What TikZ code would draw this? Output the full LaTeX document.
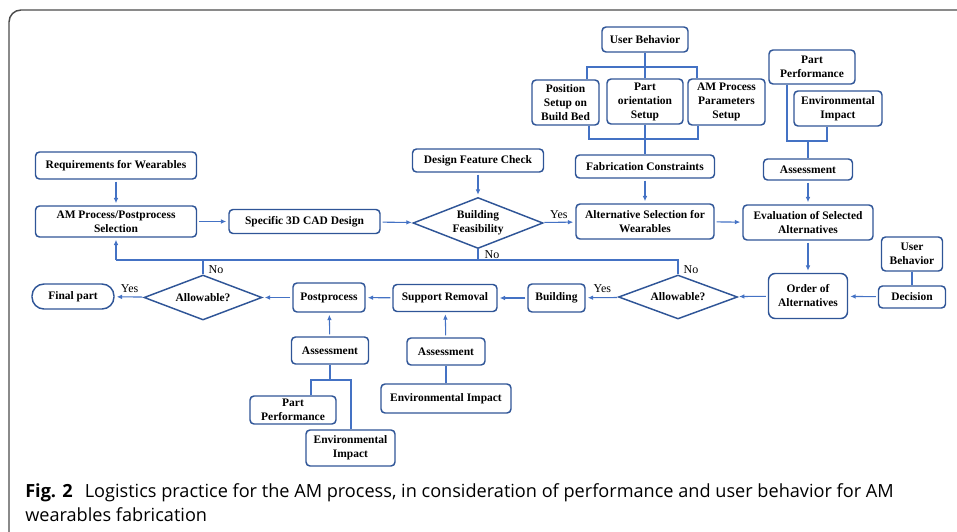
\documentclass[tikz,border=0pt]{standalone}
\usepackage{fontspec}
\setmainfont{Liberation Serif}
\newfontfamily\capfont{Open Sans}
\usetikzlibrary{arrows.meta,shapes.geometric}
\definecolor{boxblue}{RGB}{47,85,151}
\definecolor{lineblue}{RGB}{68,114,196}
\definecolor{framegray}{RGB}{75,75,75}
\tikzset{
  stepbox/.style={draw=boxblue, line width=1.1pt, rounded corners=3pt, align=center,
    inner sep=1pt, font=\fontsize{8.6}{10.5}\selectfont\bfseries},
  decide/.style={diamond, draw=boxblue, line width=1.1pt, aspect=2.5, inner sep=0pt,
    align=center, font=\fontsize{8.6}{10.5}\selectfont\bfseries},
  link/.style={draw=lineblue, line width=0.8pt},
  arr/.style={link, -{Latex[length=4pt,width=3.5pt]}, shorten >=1.5pt, shorten <=1.5pt},
  lbl/.style={font=\fontsize{9}{10}\selectfont, inner sep=1pt}
}
\begin{document}
\begin{tikzpicture}[x=0.75pt, y=-0.75pt]
    \useasboundingbox (0,0) rectangle (957,532);
    % frame
    \begin{scope}
        \clip (0,0) rectangle (957,532);
        \draw[framegray, line width=1.1pt, rounded corners=9pt] (9,10) rectangle (980,545);
    \end{scope}

    % left column
    \node[stepbox, minimum width=161*0.75pt, minimum height=27*0.75pt] (req) at (116,165.5) {Requirements for Wearables};
    \node[stepbox, minimum width=161*0.75pt, minimum height=31*0.75pt] (amsel) at (116,221.5) {AM Process/Postprocess\\Selection};
    \node[stepbox, minimum width=151*0.75pt, minimum height=24*0.75pt] (cad) at (304.5,221.5) {Specific 3D CAD Design};
    \node[decide, minimum width=130*0.75pt, minimum height=51*0.75pt] (feas) at (478,223) {Building\\Feasibility};
    \node[stepbox, minimum width=131*0.75pt, minimum height=23*0.75pt] (dfc) at (478,160.5) {Design Feature Check};

    % user behavior block
    \node[stepbox, minimum width=86*0.75pt, minimum height=25*0.75pt] (ub) at (645,39.5) {User Behavior};
    \node[stepbox, minimum width=67*0.75pt, minimum height=45*0.75pt] (pos) at (565.5,102.5) {Position\\Setup on\\Build Bed};
    \node[stepbox, minimum width=76*0.75pt, minimum height=45*0.75pt] (orient) at (645,101.5) {Part\\orientation\\Setup};
    \node[stepbox, minimum width=77*0.75pt, minimum height=46*0.75pt] (param) at (726.5,102) {AM Process\\Parameters\\Setup};
    \node[stepbox, minimum width=139*0.75pt, minimum height=23*0.75pt] (fab) at (645,166.5) {Fabrication Constraints};
    \node[stepbox, minimum width=138*0.75pt, minimum height=35*0.75pt] (altsel) at (645,221.5) {Alternative Selection for\\Wearables};

    % assessment block (top right)
    \node[stepbox, minimum width=86*0.75pt, minimum height=34*0.75pt] (perfA) at (812,67) {Part\\Performance};
    \node[stepbox, minimum width=88*0.75pt, minimum height=35*0.75pt] (envA) at (838,108.5) {Environmental\\Impact};
    \node[stepbox, minimum width=89*0.75pt, minimum height=21*0.75pt] (assA) at (808,169.5) {Assessment};
    \node[stepbox, minimum width=130*0.75pt, minimum height=35*0.75pt] (eval) at (808,222.5) {Evaluation of Selected\\Alternatives};

    % ordering
    \node[stepbox, minimum width=61*0.75pt, minimum height=34*0.75pt] (ubB) at (912,254) {User\\Behavior};
    \node[stepbox, minimum width=67*0.75pt, minimum height=22*0.75pt] (dec) at (912,297) {Decision};
    \node[stepbox, minimum width=79*0.75pt, minimum height=45*0.75pt, rounded corners=5pt] (order) at (808,296) {Order of\\Alternatives};
    \node[decide, minimum width=119*0.75pt, minimum height=44*0.75pt] (allowR) at (678,297) {Allowable?};

    % bottom row
    \node[stepbox, minimum width=57*0.75pt, minimum height=28*0.75pt] (build) at (556.5,298) {Building};
    \node[stepbox, minimum width=104*0.75pt, minimum height=27*0.75pt] (suprem) at (445,298) {Support Removal};
    \node[stepbox, minimum width=72*0.75pt, minimum height=29*0.75pt] (post) at (329,297.5) {Postprocess};
    \node[decide, minimum width=118*0.75pt, minimum height=45*0.75pt] (allowL) at (203,297.5) {Allowable?};
    \node[stepbox, minimum width=82*0.75pt, minimum height=25*0.75pt, rounded corners=9pt] (final) at (73,296.5) {Final part};

    % assessments below
    \node[stepbox, minimum width=77*0.75pt, minimum height=27*0.75pt] (assB) at (330,350.5) {Assessment};
    \node[stepbox, minimum width=86*0.75pt, minimum height=28*0.75pt] (perfB) at (293,410) {Part\\Performance};
    \node[stepbox, minimum width=89*0.75pt, minimum height=36*0.75pt] (envB) at (350.5,448) {Environmental\\Impact};
    \node[stepbox, minimum width=78*0.75pt, minimum height=27*0.75pt] (assC) at (446,351.5) {Assessment};
    \node[stepbox, minimum width=130*0.75pt, minimum height=29*0.75pt] (envC) at (446,398.5) {Environmental Impact};

    % bracket corners
    \coordinate (ubL) at (587,67);
    \coordinate (ubR) at (697,67);
    \coordinate (fcL) at (589,139);
    \coordinate (fcR) at (698,139);
    \coordinate (paL) at (787,141);
    \coordinate (paR) at (827,141);
    \coordinate (paM) at (808,141);
    \coordinate (pbL) at (311,380);
    \coordinate (pbR) at (351,380);
    \coordinate (pbM) at (330,380);
    \coordinate (loopL) at (116,260);
    \coordinate (loopR) at (678,260);

    % connectors
    \draw[arr] (req) -- (amsel);
    \draw[arr] (amsel) -- (cad);
    \draw[arr] (cad) -- (feas);
    \draw[arr] (dfc) -- (feas);
    \draw[arr] (feas) -- node[lbl, above, yshift=1pt] {Yes} (altsel);
    \draw[link] (ub) -- (orient);
    \draw[link] (ubL |- pos.north) -- (ubL) -- (ubR) -- (ubR |- param.north);
    \draw[link] (fcL |- pos.south) -- (fcL) -- (fcR) -- (fcR |- param.south);
    \draw[link] (orient) -- (fab);
    \draw[arr] (fab) -- (altsel);
    \draw[link] (paL |- perfA.south) -- (paL) -- (paR) -- (paR |- envA.south);
    \draw[link] (paM) -- (assA);
    \draw[arr] (assA) -- (eval);
    \draw[arr] (altsel) -- (eval);
    \draw[arr] (eval) -- (order);
    \draw[link] (ubB) -- (dec);
    \draw[arr] (dec) -- (order);
    \draw[arr] (order) -- (allowR);
    \draw[arr] (allowR) -- node[lbl, above, yshift=2pt] {Yes} (build);
    \draw[arr] (build) -- (suprem);
    \draw[arr] (suprem) -- (post);
    \draw[arr] (post) -- (allowL);
    \draw[arr] (allowL) -- node[lbl, above, yshift=2pt] {Yes} (final);
    \draw[arr] (assB) -- (post);
    \draw[link] (assB) -- (pbM);
    \draw[link] (pbL |- perfB.north) -- (pbL) -- (pbR) -- (pbR |- envB.north);
    \draw[arr] (assC) -- (suprem);
    \draw[link] (envC) -- (assC);

    % feedback loop
    \draw[link] (allowR.north) -- (loopR) -- (loopL);
    \draw[arr, shorten <=0pt] (loopL) -- (amsel);
    \draw[link] (feas.south) -- (feas.south |- loopL);
    \draw[link] (allowL.north) -- (allowL.north |- loopL);
    \node[lbl, anchor=south west] (noF) at (483,260) {No};
    \node[lbl, anchor=west] (noL) at (207,270) {No};
    \node[lbl, anchor=west] (noR) at (682,270) {No};

    % caption
    \node[anchor=base west, inner sep=0pt, font=\capfont\fontsize{13.6}{18}\selectfont] (cap1) at (25,497)
        {\textbf{Fig. 2}\hspace{0.4em} Logistics practice for the AM process, in consideration of performance and user behavior for AM};
    \node[anchor=base west, inner sep=0pt, font=\capfont\fontsize{13.6}{18}\selectfont] (cap2) at (25,521)
        {wearables fabrication};
\end{tikzpicture}
\end{document}
